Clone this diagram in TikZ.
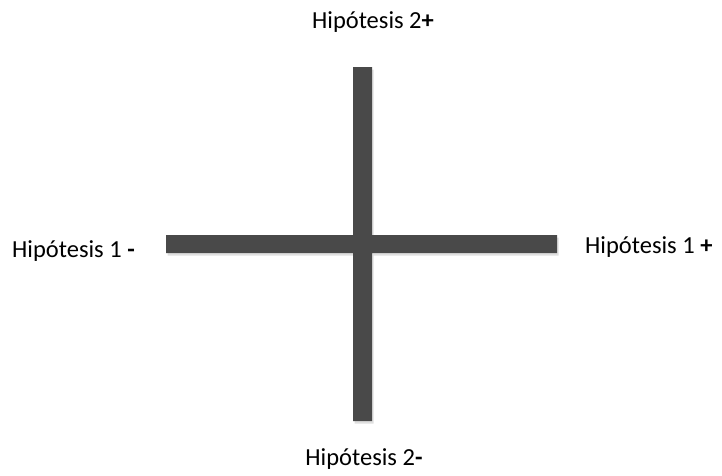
\documentclass[tikz,border=0pt]{standalone}
\usepackage{fontspec}
\setmainfont{Carlito}
\usetikzlibrary{shadows}
\definecolor{bargray}{HTML}{494949}

\begin{document}
\begin{tikzpicture}[
  x=1pt,y=-1pt,
  bar/.style={fill=bargray,drop shadow={shadow xshift=1.5pt,shadow yshift=-2.5pt,opacity=.25}},
  hlabel/.style={inner sep=0pt,font=\fontsize{24.5}{29}\selectfont}
]
  \useasboundingbox (0,0) rectangle (722,475);
  % ends of the two bars
  \coordinate (north) at (362.5,67);
  \coordinate (south) at (362.5,421);
  \coordinate (west) at (166,244);
  \coordinate (east) at (557,244);

  \path[bar] ([xshift=-9.5pt]north) rectangle ([xshift=9.5pt]south)
             ([yshift=9pt]west) rectangle ([yshift=-9pt]east);

  \node[hlabel,anchor=base] (h2plus) at (373,28) {Hipótesis 2\textbf{+}};
  \node[hlabel,anchor=base] (h2minus) at (364,465) {Hipótesis 2\textbf{-}};
  \node[hlabel,anchor=base west] (h1minus) at (12,257) {Hipótesis 1 \textbf{-}};
  \node[hlabel,anchor=base west] (h1plus) at (585,253) {Hipótesis 1 \textbf{+}};
\end{tikzpicture}
\end{document}
